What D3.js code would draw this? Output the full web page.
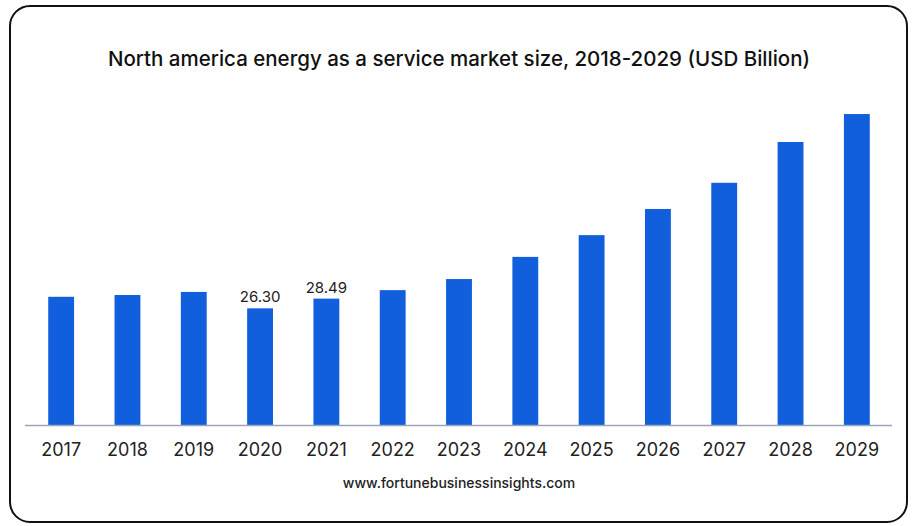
<!DOCTYPE html>
<html>
<head>
<meta charset="utf-8">
<script src="https://cdn.jsdelivr.net/npm/d3@7"></script>
<style>
  body { margin: 0; background: #fff; }
  svg { display: block; font-family: Inter, "Noto Sans", sans-serif; }
</style>
</head>
<body>
<div id="chart"></div>
<script>
const years = ['2017', '2018', '2019', '2020', '2021', '2022', '2023', '2024', '2025', '2026', '2027', '2028', '2029'];
const values = [28.9, 29.3, 30.0, 26.30, 28.49, 30.4, 32.9, 37.9, 42.8, 48.7, 54.6, 63.8, 70.1];
const shownLabels = ['2020', '2021'];

const widthSvg = 915;
const heightSvg = 526;
const baseY = 425;

const svg = d3.select('#chart').append('svg')
  .attr('width', widthSvg)
  .attr('height', heightSvg);

// outer rounded frame
svg.append('rect')
  .attr('x', 10).attr('y', 6)
  .attr('width', 897).attr('height', 516)
  .attr('rx', 20).attr('ry', 20)
  .attr('fill', '#fff')
  .attr('stroke', '#111')
  .attr('stroke-width', 2);

svg.append('text')
  .attr('x', 459).attr('y', 66)
  .attr('text-anchor', 'middle')
  .attr('font-size', 20.5)
  .attr('font-weight', 500)
  .attr('fill', '#111')
  .text('North america energy as a service market size, 2018-2029 (USD Billion)');

const x = d3.scaleBand()
  .domain(years)
  .range([28, 890])
  .paddingInner(0.61)
  .paddingOuter(0.305);

const y = d3.scaleLinear()
  .domain([0, 75])
  .range([baseY, baseY - 75 * 4.436]);

const data = years.map((yr, i) => ({ year: yr, value: values[i] }));

svg.append('g').selectAll('rect')
  .data(data)
  .enter().append('rect')
  .attr('x', d => x(d.year))
  .attr('y', d => y(d.value))
  .attr('width', x.bandwidth())
  .attr('height', d => y(0) - y(d.value))
  .attr('fill', '#115fdc');

svg.append('g').selectAll('text')
  .data(data.filter(d => shownLabels.includes(d.year)))
  .enter().append('text')
  .attr('x', d => x(d.year) + x.bandwidth() / 2)
  .attr('y', d => y(d.value) - 6)
  .attr('text-anchor', 'middle')
  .attr('font-size', 15)
  .attr('fill', '#222')
  .text(d => d.value.toFixed(2));

const axisX = d3.axisBottom(x).tickSize(0).tickPadding(18);
const groupAxisX = svg.append('g')
  .attr('transform', `translate(0, ${baseY})`)
  .call(axisX);
groupAxisX.select('.domain').remove();
groupAxisX.append('line')
  .attr('x1', 25).attr('x2', 892)
  .attr('y1', 0.5).attr('y2', 0.5)
  .attr('stroke', '#9aa6b8')
  .attr('stroke-width', 1.5);
groupAxisX.selectAll('text')
  .attr('font-size', 18)
  .attr('font-family', 'Inter, "Noto Sans", sans-serif')
  .attr('fill', '#222');

svg.append('text')
  .attr('x', 459).attr('y', 488)
  .attr('text-anchor', 'middle')
  .attr('font-size', 14)
  .attr('font-weight', 500)
  .attr('fill', '#222')
  .text('www.fortunebusinessinsights.com');
</script>
</body>
</html>
